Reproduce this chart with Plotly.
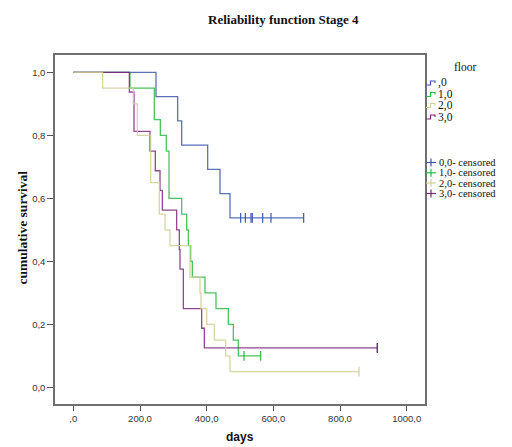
import plotly.graph_objects as go

# ---- data ----
groups = [",0", "1,0", "2,0", "3,0"]
colors = {",0": "#3E58AC", "1,0": "#2EB848", "2,0": "#D3CE97", "3,0": "#7C287D"}

# step curves: event times (days) and survival after each event
t_0 = [0, 248, 313, 325, 403, 440, 470, 691]
s_0 = [1.0, 0.923, 0.846, 0.769, 0.692, 0.615, 0.538, 0.538]
c_t_0 = [502, 516, 533, 537, 568, 593, 691]
c_s_0 = [0.538] * 7

t_1 = [0, 170, 243, 261, 279, 287, 325, 340, 345, 352, 357, 395, 428, 465, 480, 495, 562]
s_1 = [1.0, 0.95, 0.85, 0.80, 0.75, 0.60, 0.55, 0.50, 0.45, 0.40, 0.35, 0.30, 0.25, 0.20, 0.15, 0.10, 0.10]
c_t_1 = [512, 562]
c_s_1 = [0.10, 0.10]

t_2 = [0, 88, 180, 192, 232, 258, 275, 290, 350, 380, 383, 400, 423, 457, 470, 857]
s_2 = [1.0, 0.95, 0.90, 0.80, 0.65, 0.55, 0.50, 0.45, 0.35, 0.30, 0.25, 0.20, 0.15, 0.10, 0.05, 0.05]
c_t_2 = [857]
c_s_2 = [0.05]

t_3 = [0, 168, 182, 230, 246, 260, 267, 310, 318, 320, 330, 385, 393, 912]
s_3 = [1.0, 0.9375, 0.8125, 0.75, 0.6875, 0.625, 0.5625, 0.5, 0.4375, 0.375, 0.25, 0.1875, 0.125, 0.125]
c_t_3 = [912, 912]
c_s_3 = [0.125, 0.125]

curves = {
    ",0": (t_0, s_0, c_t_0, c_s_0),
    "1,0": (t_1, s_1, c_t_1, c_s_1),
    "2,0": (t_2, s_2, c_t_2, c_s_2),
    "3,0": (t_3, s_3, c_t_3, c_s_3),
}
draw_order = ["1,0", ",0", "3,0", "2,0"]

x_ticks = [0, 200, 400, 600, 800, 1000]
x_ticklabels = [",0", "200,0", "400,0", "600,0", "800,0", "1000,0"]
y_ticks = [0, 0.2, 0.4, 0.6, 0.8, 1.0]
y_ticklabels = ["0,0", "0,2", "0,4", "0,6", "0,8", "1,0"]

# ---- layout geometry ----
W, H = 512, 447
L, R, T, B = 55, 87, 55, 43
PW, PH = W - L - R, H - T - B


def px(X):
    return (X - L) / PW


def py(Y):
    return (H - B - Y) / PH


fig = go.Figure()

for g in draw_order:
    t, s, ct, cs = curves[g]
    fig.add_trace(go.Scatter(x=t, y=s, mode="lines", line=dict(color=colors[g], width=1.3, shape="hv"),
                             opacity=0.85, showlegend=False, hoverinfo="skip"))
for g in draw_order:
    t, s, ct, cs = curves[g]
    fig.add_trace(go.Scatter(x=ct, y=cs, mode="markers",
                             marker=dict(symbol="line-ns", size=7, line=dict(color=colors[g], width=1.2)),
                             showlegend=False, hoverinfo="skip"))

serif = "Liberation Serif, Times New Roman, serif"
sans = "Liberation Sans, Arial, sans-serif"

annotations = [
    dict(text="<b>Reliability function Stage 4</b>", x=px(283.5), y=py(20), xref="paper", yref="paper",
         showarrow=False, font=dict(family=serif, size=13, color="#111"), xanchor="center", yanchor="middle"),
    dict(text="<b>cumulative survival</b>", x=px(21.5), y=py(228), xref="paper", yref="paper",
         showarrow=False, textangle=-90, font=dict(family=serif, size=13.5, color="#111"),
         xanchor="center", yanchor="middle"),
    dict(text="<b>days</b>", x=px(240), y=py(437), xref="paper", yref="paper",
         showarrow=False, font=dict(family=sans, size=12, color="#111"), xanchor="center", yanchor="middle"),
    dict(text="floor", x=px(465), y=py(67), xref="paper", yref="paper",
         showarrow=False, font=dict(family=serif, size=11.5, color="#111"), xanchor="center", yanchor="middle"),
]

shapes = []
leg_y = [83, 94.5, 105.5, 117]
for g, yy in zip(groups, leg_y):
    c = colors[g]
    path = "M {} {} L {} {} L {} {} L {} {} L {} {}".format(
        px(426), py(yy + 2), px(430.5), py(yy + 2), px(430.5), py(yy - 2),
        px(435), py(yy - 2), px(435), py(yy))
    shapes.append(dict(type="path", path=path, xref="paper", yref="paper", line=dict(color=c, width=1.2)))
    annotations.append(dict(text=g, x=px(435.5), y=py(yy), xref="paper", yref="paper", showarrow=False,
                            font=dict(family=serif, size=11.5, color="#111"), xanchor="left", yanchor="middle"))

cens_y = [162.5, 172.8, 183, 193.5]
cens_labels = ["0,0- censored", "1,0- censored", "2,0- censored", "3,0- censored"]
for g, yy, lab in zip(groups, cens_y, cens_labels):
    c = colors[g]
    shapes.append(dict(type="line", x0=px(426), x1=px(436), y0=py(yy), y1=py(yy), xref="paper", yref="paper",
                       line=dict(color=c, width=1.2)))
    shapes.append(dict(type="line", x0=px(431), x1=px(431), y0=py(yy - 4), y1=py(yy + 4), xref="paper",
                       yref="paper", line=dict(color=c, width=1.2)))
    annotations.append(dict(text=lab, x=px(436.5), y=py(yy), xref="paper", yref="paper", showarrow=False,
                            font=dict(family=serif, size=10.5, color="#111"), xanchor="left", yanchor="middle"))

fig.update_layout(
    width=W, height=H,
    margin=dict(l=L, r=R, t=T, b=B, pad=0),
    paper_bgcolor="white", plot_bgcolor="white",
    showlegend=False,
    annotations=annotations,
    shapes=shapes,
    xaxis=dict(range=[-55, 1055], tickvals=x_ticks, ticktext=x_ticklabels, ticks="outside", ticklen=5,
               tickcolor="#555", tickwidth=1.3, showgrid=False, zeroline=False, showline=True,
               linecolor="#707070", linewidth=1.5, mirror=True,
               tickfont=dict(family=sans, size=9.5, color="#333")),
    yaxis=dict(range=[-0.053, 1.055], tickvals=y_ticks, ticktext=y_ticklabels, ticks="outside", ticklen=6,
               tickcolor="#555", tickwidth=1.3, showgrid=False, zeroline=False, showline=True,
               linecolor="#707070", linewidth=1.5, mirror=True,
               tickfont=dict(family=sans, size=9.5, color="#333")),
)

fig.write_html("out.html", config={"displayModeBar": False},
               post_script="document.body.style.margin='0';document.body.style.overflow='hidden';")
